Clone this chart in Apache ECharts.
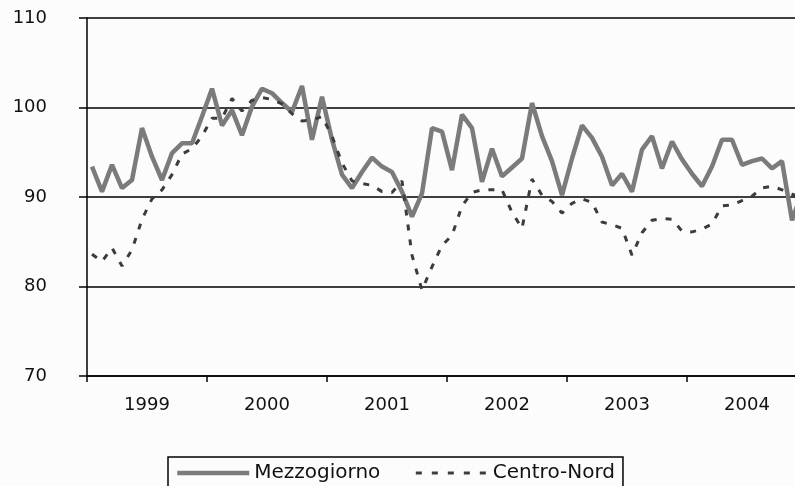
<!DOCTYPE html>
<html>
<head>
<meta charset="utf-8">
<script src="https://cdn.jsdelivr.net/npm/echarts@6/dist/echarts.min.js"></script>
<style>
  html, body { margin: 0; padding: 0; background: #fcfcfc; }
  #chart { width: 795px; height: 486px; }
</style>
</head>
<body>
<div id="chart"></div>
<script>
// monthly index, Jan 1999 - Dec 2004
const years = ['1999', '2000', '2001', '2002', '2003', '2004'];
const yTicks = [70, 80, 90, 100, 110];

const mezzogiorno = [
    93.4, 90.6, 93.6, 91.0, 91.9, 97.7, 94.5, 91.9, 94.9, 96.0, 96.0, 99.0,
    102.1, 98.0, 99.7, 96.9, 100.1, 102.1, 101.6, 100.5, 99.5, 102.4, 96.4, 101.2,
    96.4, 92.5, 91.0, 92.8, 94.4, 93.4, 92.8, 90.6, 87.8, 90.4, 97.7, 97.3,
    93.0, 99.2, 97.7, 91.7, 95.4, 92.3, 93.3, 94.3, 100.5, 96.8, 94.0, 90.2,
    94.3, 98.0, 96.6, 94.5, 91.3, 92.6, 90.6, 95.3, 96.8, 93.2, 96.2, 94.2,
    92.6, 91.2, 93.4, 96.4, 96.4, 93.6, 94.0, 94.3, 93.2, 94.0, 87.4, 90.5
];
const centroNord = [
    83.6, 82.8, 84.3, 82.3, 84.1, 87.5, 89.8, 90.8, 92.5, 94.8, 95.4, 96.8,
    98.8, 98.8, 101.0, 99.6, 100.8, 101.1, 100.9, 100.4, 99.3, 98.5, 98.6, 99.0,
    96.8, 93.8, 91.8, 91.5, 91.3, 90.6, 90.5, 91.8, 83.5, 79.6, 82.2, 84.6,
    85.7, 89.0, 90.5, 90.8, 90.8, 90.8, 88.3, 86.5, 92.0, 90.2, 89.5, 88.2,
    89.3, 89.8, 89.4, 87.2, 86.9, 86.5, 83.5, 86.0, 87.4, 87.6, 87.5, 86.2,
    86.1, 86.4, 87.0, 89.0, 89.1, 89.6, 90.1, 91.0, 91.2, 90.8, 90.3, 90.0
];

const chart = echarts.init(document.getElementById('chart'));

// points sit at mid-month
function toPoints(arr) {
    return arr.map(function (v, i) {
        return [i + 0.5, v];
    });
}

const font = 'DejaVu Sans';
const greyLine = '#7b7b7b';
const darkDash = '#3c3c3c';

const option = {
    backgroundColor: '#fcfcfc',
    animation: false,
    // axis runs to Jan 2005, just past the right edge
    grid: { left: 87, top: 18, width: 720, height: 358, outerBoundsMode: 'none', containLabel: false },
    legend: {
        left: 168,
        top: 457,
        padding: [6, 8, 14, 7],
        itemGap: 34,
        itemWidth: 72,
        itemHeight: 6,
        borderColor: '#000',
        borderWidth: 1.5,
        borderRadius: 0,
        itemStyle: { opacity: 0 },
        textStyle: { fontFamily: font, fontSize: 20, color: '#111' },
        data: [
            { name: 'Mezzogiorno', lineStyle: { color: greyLine, width: 4.5 } },
            { name: 'Centro-Nord', lineStyle: { color: darkDash, width: 3, type: [6, 10] } }
        ]
    },
    xAxis: [
        {
            type: 'value',
            min: 0,
            max: 72,
            interval: 12,
            axisLine: { show: true, lineStyle: { color: '#000', width: 1.5 } },
            axisTick: { show: true, inside: false, length: 6, lineStyle: { color: '#000', width: 1.5 } },
            axisLabel: { show: false },
            splitLine: { show: false }
        },
        {
            type: 'value',
            position: 'bottom',
            min: 0,
            max: 72,
            interval: 6,
            axisLine: { show: false },
            axisTick: { show: false },
            splitLine: { show: false },
            axisLabel: {
                margin: 20,
                fontFamily: font,
                fontSize: 18,
                color: '#111',
                formatter: function (v) {
                    return v % 12 === 6 ? years[(v - 6) / 12] : '';
                }
            }
        }
    ],
    yAxis: {
        type: 'value',
        min: yTicks[0],
        max: yTicks[yTicks.length - 1],
        interval: 10,
        axisLine: { show: true, lineStyle: { color: '#000', width: 1.5 } },
        axisTick: { show: true, inside: false, length: 8, lineStyle: { color: '#000', width: 1.5 } },
        axisLabel: { margin: 40, fontFamily: font, fontSize: 18, color: '#111' },
        splitLine: { show: true, lineStyle: { color: '#000', width: 1.5 } }
    },
    series: [
        {
            name: 'Mezzogiorno',
            type: 'line',
            xAxisIndex: 0,
            data: toPoints(mezzogiorno),
            symbol: 'none',
            lineStyle: { color: greyLine, width: 4.5 },
            itemStyle: { color: greyLine }
        },
        {
            name: 'Centro-Nord',
            type: 'line',
            xAxisIndex: 0,
            data: toPoints(centroNord),
            symbol: 'none',
            lineStyle: { color: darkDash, width: 3, type: [6, 9] },
            itemStyle: { color: darkDash }
        }
    ]
};

chart.setOption(option);
</script>
</body>
</html>
